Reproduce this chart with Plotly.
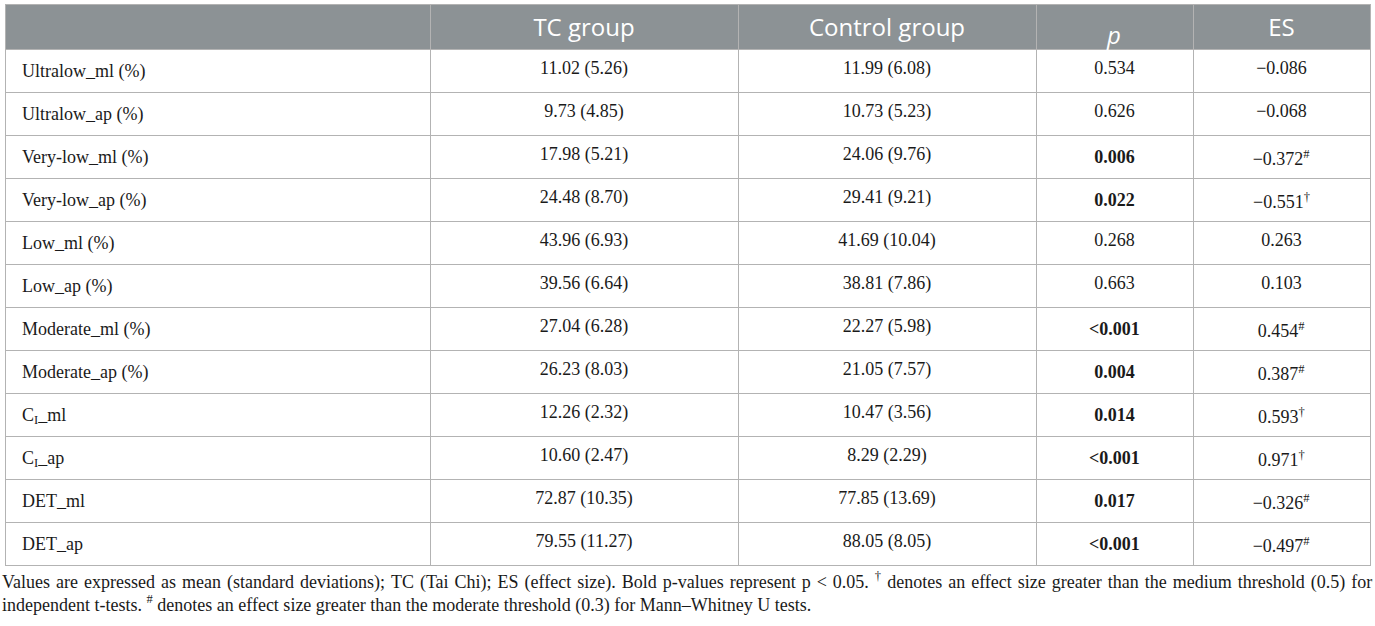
import plotly.graph_objects as go

measures = ["Ultralow_ml (%)", "Ultralow_ap (%)", "Very-low_ml (%)", "Very-low_ap (%)",
            "Low_ml (%)", "Low_ap (%)", "Moderate_ml (%)", "Moderate_ap (%)",
            "C<sub>I</sub>_ml", "C<sub>I</sub>_ap", "DET_ml", "DET_ap"]
tc_group = ["11.02 (5.26)", "9.73 (4.85)", "17.98 (5.21)", "24.48 (8.70)", "43.96 (6.93)",
            "39.56 (6.64)", "27.04 (6.28)", "26.23 (8.03)", "12.26 (2.32)", "10.60 (2.47)",
            "72.87 (10.35)", "79.55 (11.27)"]
control_group = ["11.99 (6.08)", "10.73 (5.23)", "24.06 (9.76)", "29.41 (9.21)", "41.69 (10.04)",
                 "38.81 (7.86)", "22.27 (5.98)", "21.05 (7.57)", "10.47 (3.56)", "8.29 (2.29)",
                 "77.85 (13.69)", "88.05 (8.05)"]
p_values = ["0.534", "0.626", "<b>0.006</b>", "<b>0.022</b>", "0.268", "0.663", "<b><0.001</b>",
            "<b>0.004</b>", "<b>0.014</b>", "<b><0.001</b>", "<b>0.017</b>", "<b><0.001</b>"]
effect_sizes = ["\u22120.086", "\u22120.068", "\u22120.372<sup>#</sup>", "\u22120.551<sup>\u2020</sup>",
                "0.263", "0.103", "0.454<sup>#</sup>", "0.387<sup>#</sup>", "0.593<sup>\u2020</sup>",
                "0.971<sup>\u2020</sup>", "\u22120.326<sup>#</sup>", "\u22120.497<sup>#</sup>"]
headers = ["", "TC group", "Control group", "<i>p</i>", "ES"]
footnote_lines = [
    "Values are expressed as mean (standard deviations); TC (Tai Chi); ES (effect size). Bold p-values represent p < 0.05. <sup>\u2020</sup> denotes an effect size greater than the medium threshold (0.5) for",
    "independent t-tests. <sup>#</sup> denotes an effect size greater than the moderate threshold (0.3) for Mann\u2013Whitney U tests.",
]

W, H = 1375, 626
TOP, LEFT, RIGHT = 4, 5, 1370
HEADER_H, ROW_H = 45, 43
col_edges = [LEFT, 430, 738, 1036, 1193, RIGHT]
col_widths = [col_edges[i + 1] - col_edges[i] for i in range(5)]
n = len(measures)
blank_cols = [[""] * n for _ in range(5)]

line_col = "#b3b3b3"
clear = "rgba(0,0,0,0)"
serif = "Liberation Serif, DejaVu Serif, serif"
sans = "Open Sans, Noto Sans, sans-serif"


def dom(shift):
    return dict(x=[LEFT / W, RIGHT / W], y=[0.0, 1 - (TOP + shift) / H])


# grid (fills and lines)
fig = go.Figure(go.Table(
    domain=dom(0),
    columnwidth=col_widths,
    header=dict(values=[""] * 5, fill_color="#8c9295", line=dict(color=line_col, width=1),
                font=dict(family=sans, size=24, color="white"), height=HEADER_H),
    cells=dict(values=blank_cols, fill_color="white", line=dict(color=line_col, width=1),
               font=dict(family=serif, size=18), height=ROW_H),
))

# header text
fig.add_trace(go.Table(
    domain=dom(6),
    columnwidth=col_widths,
    header=dict(values=headers, fill_color=clear, line=dict(color=clear, width=0),
                font=dict(family=sans, size=24, color="white"), align="center", height=HEADER_H),
    cells=dict(values=blank_cols, fill_color=clear, line=dict(color=clear, width=0),
               font=dict(family=serif, size=18), height=ROW_H),
))

# body text
fig.add_trace(go.Table(
    domain=dom(3.5),
    columnwidth=col_widths,
    header=dict(values=[""] * 5, fill_color=clear, line=dict(color=clear, width=0),
                font=dict(family=sans, size=24, color=clear), height=HEADER_H),
    cells=dict(
        values=[["&nbsp;&nbsp;" + m for m in measures], tc_group, control_group, p_values, effect_sizes],
        fill_color=clear,
        line=dict(color=clear, width=0),
        font=dict(family=serif, size=18, color="#1a1a1a"),
        align=["left", "center", "center", "center", "center"],
        height=ROW_H,
    ),
))

gap = " \u200a"
for i, txt in enumerate(footnote_lines):
    shown = txt.replace(" ", gap) if i == 0 else txt
    fig.add_annotation(
        x=0, y=1 - (581 + 23 * i) / H, xref="paper", yref="paper",
        xanchor="left", yanchor="middle", showarrow=False, text=shown,
        font=dict(family=serif, size=18, color="#1a1a1a"),
    )

fig.update_layout(width=W, height=H, margin=dict(l=0, r=0, t=0, b=0),
                  paper_bgcolor="white", plot_bgcolor="white")

fig.write_html("out.html", config={"displayModeBar": False},
               post_script="document.body.style.margin='0';document.body.style.overflow='hidden';")
